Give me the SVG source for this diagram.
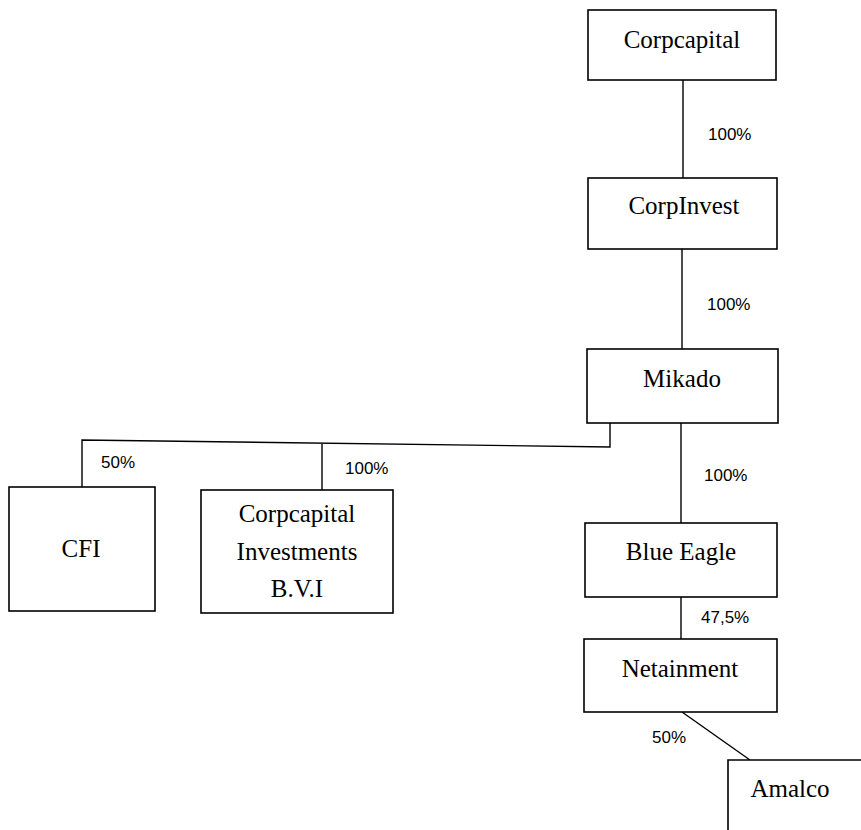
<svg xmlns="http://www.w3.org/2000/svg" width="861" height="830" viewBox="0 0 861 830">
<style>
.box{fill:#fff;stroke:#000;stroke-width:1.6}
.lbl{font-family:"Liberation Serif","Times New Roman",serif;font-size:25px;fill:#000;text-anchor:middle}
.pct{font-family:"Liberation Sans",Arial,sans-serif;font-size:17px;fill:#000}
.conn{fill:none;stroke:#000;stroke-width:1.4}
</style>
<rect width="861" height="830" fill="#fff"/>
<g id="connectors">
<line class="conn" x1="683" y1="80" x2="683" y2="178"/>
<line class="conn" x1="682" y1="249" x2="682" y2="349"/>
<line class="conn" x1="681" y1="423" x2="681" y2="523"/>
<line class="conn" x1="681" y1="597" x2="681" y2="639"/>
<line class="conn" x1="682" y1="712" x2="750" y2="760"/>
<path class="conn" d="M610,423 V447 L82,440 V487"/>
<line class="conn" x1="322" y1="444" x2="322" y2="490"/>
<text class="pct" x="708" y="140">100%</text>
<text class="pct" x="707" y="310">100%</text>
<text class="pct" x="704" y="481">100%</text>
<text class="pct" x="701" y="623">47,5%</text>
<text class="pct" x="652" y="743">50%</text>
<text class="pct" x="101" y="468">50%</text>
<text class="pct" x="345" y="474">100%</text>
</g>
<g id="corpcapital">
<rect class="box" x="588" y="10" width="188" height="70"/>
<text class="lbl" x="682" y="48">Corpcapital</text>
</g>
<g id="corpinvest">
<rect class="box" x="588" y="178" width="189" height="71"/>
<text class="lbl" x="684" y="214">CorpInvest</text>
</g>
<g id="mikado">
<rect class="box" x="587" y="349" width="191" height="74"/>
<text class="lbl" x="682" y="387">Mikado</text>
</g>
<g id="blue-eagle">
<rect class="box" x="585" y="523" width="192" height="74"/>
<text class="lbl" x="681" y="560">Blue Eagle</text>
</g>
<g id="netainment">
<rect class="box" x="584" y="639" width="193" height="73"/>
<text class="lbl" x="680" y="677">Netainment</text>
</g>
<g id="amalco">
<path class="box" d="M728,832 V760 H863"/>
<text class="lbl" x="790" y="797">Amalco</text>
</g>
<g id="cfi">
<rect class="box" x="9" y="487" width="146" height="124"/>
<text class="lbl" x="81" y="557">CFI</text>
</g>
<g id="corpcapital-investments-bvi">
<rect class="box" x="201" y="490" width="192" height="123"/>
<text class="lbl" x="297" y="522">Corpcapital</text>
<text class="lbl" x="297" y="560">Investments</text>
<text class="lbl" x="297" y="597">B.V.I</text>
</g>
</svg>
